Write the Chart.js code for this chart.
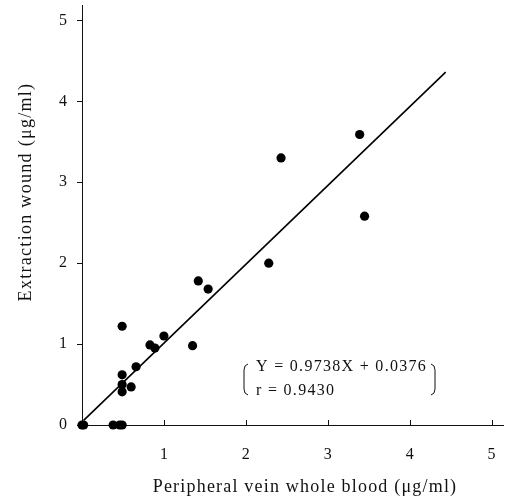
<!DOCTYPE html>
<html>
<head>
<meta charset="utf-8">
<script src="https://cdn.jsdelivr.net/npm/chart.js"></script>
<style>
  html, body { margin: 0; padding: 0; background: #fff; }
  #wrap { width: 512px; height: 498px; }
</style>
</head>
<body>
<div id="wrap"><canvas id="chart" width="512" height="498"></canvas></div>
<script>
// --- Data ---

const veinValues = [0.0, 0.02, 0.38, 0.46, 0.49, 0.49, 0.49, 0.49, 0.49, 0.60, 0.66, 0.83, 0.89, 1.00, 1.35, 1.42, 1.54, 2.28, 2.43, 3.39, 3.45];
const woundValues = [0.0, 0.0, 0.0, 0.0, 0.0, 1.22, 0.62, 0.50, 0.41, 0.47, 0.72, 0.99, 0.95, 1.10, 0.98, 1.78, 1.68, 2.00, 3.30, 3.59, 2.58];
const fitEnds = [0.02, 4.44];
const fitSlope = 0.9738;
const fitIntercept = 0.0376;
const tickValues = [0, 1, 2, 3, 4, 5];
const xTitle = 'Peripheral vein whole blood (μg/ml)';
const yTitle = 'Extraction wound (μg/ml)';
const eqLines = ['Y = 0.9738X + 0.0376', 'r = 0.9430'];

const SERIF = '"Liberation Serif", "DejaVu Serif", serif';

const points = veinValues.map((x, i) => ({ x, y: woundValues[i] }));
const fitLine = fitEnds.map(x => ({ x, y: fitSlope * x + fitIntercept }));

// draws inward x ticks, axis titles and the regression note
const extras = {
    id: 'extras',
    afterDraw(chart) {
        const { ctx, chartArea, scales } = chart;
        const xs = scales.x;
        ctx.save();
        ctx.strokeStyle = '#111';
        ctx.lineWidth = 1;
        tickValues.slice(1).forEach(v => {
            const px = Math.round(xs.getPixelForValue(v)) + 0.5;
            ctx.beginPath();
            ctx.moveTo(px, chartArea.bottom);
            ctx.lineTo(px, chartArea.bottom - 5);
            ctx.stroke();
        });

        ctx.fillStyle = '#111';
        ctx.font = '18px ' + SERIF;
        ctx.letterSpacing = '1.2px';
        ctx.textAlign = 'center';
        ctx.textBaseline = 'middle';
        ctx.fillText(xTitle, 305, 487);

        ctx.save();
        ctx.translate(26, 192);
        ctx.rotate(-Math.PI / 2);
        ctx.letterSpacing = '1.3px';
        ctx.fillText(yTitle, 0, 0);
        ctx.restore();

        // regression note with brackets
        ctx.font = '16px ' + SERIF;
        ctx.letterSpacing = '1.3px';
        ctx.textAlign = 'left';
        ctx.fillText(eqLines[0], 256, 367);
        ctx.fillText(eqLines[1], 256, 391);
        ctx.lineWidth = 1;
        ctx.beginPath();
        ctx.moveTo(248, 364); ctx.quadraticCurveTo(244, 365, 244, 370);
        ctx.lineTo(244, 389); ctx.quadraticCurveTo(244, 394, 248, 395);
        ctx.moveTo(431, 364); ctx.quadraticCurveTo(435, 365, 435, 370);
        ctx.lineTo(435, 389); ctx.quadraticCurveTo(435, 394, 431, 395);
        ctx.stroke();
        ctx.restore();
    }
};

function integerTicks(scale) {
    scale.ticks = tickValues.map(v => ({ value: v }));
}

new Chart(document.getElementById('chart'), {
    type: 'scatter',
    data: {
        datasets: [
            { data: points, pointRadius: 4.6, pointBackgroundColor: '#000', pointBorderWidth: 0, clip: false, order: 1 },
            { type: 'line', data: fitLine, borderColor: '#000', borderWidth: 1.6, pointRadius: 0, fill: false, order: 2 }
        ]
    },
    options: {
        responsive: false,
        animation: false,
        layout: { padding: { top: 5, right: 9, left: 0, bottom: 0 } },
        plugins: { legend: { display: false }, tooltip: { enabled: false } },
        scales: {
            x: {
                type: 'linear', min: 0, max: 5.14,
                afterBuildTicks: integerTicks,
                afterFit: s => { s.height = 73; s.paddingLeft = 0; s.paddingRight = 0; },
                grid: { display: false },
                border: { display: true, color: '#111', width: 1 },
                ticks: {
                    color: '#111', font: { family: SERIF, size: 16 }, padding: 12,
                    callback: v => (v === 0 ? '' : v)
                }
            },
            y: {
                type: 'linear', min: 0, max: 5.19,
                afterBuildTicks: integerTicks,
                afterFit: s => { s.width = 82; s.paddingTop = 0; s.paddingBottom = 0; },
                grid: { drawOnChartArea: false, drawTicks: true, tickLength: 5, color: '#111' },
                border: { display: true, color: '#111', width: 1 },
                ticks: { color: '#111', font: { family: SERIF, size: 16 }, padding: 10 }
            }
        }
    },
    plugins: [extras]
});
</script>
</body>
</html>
